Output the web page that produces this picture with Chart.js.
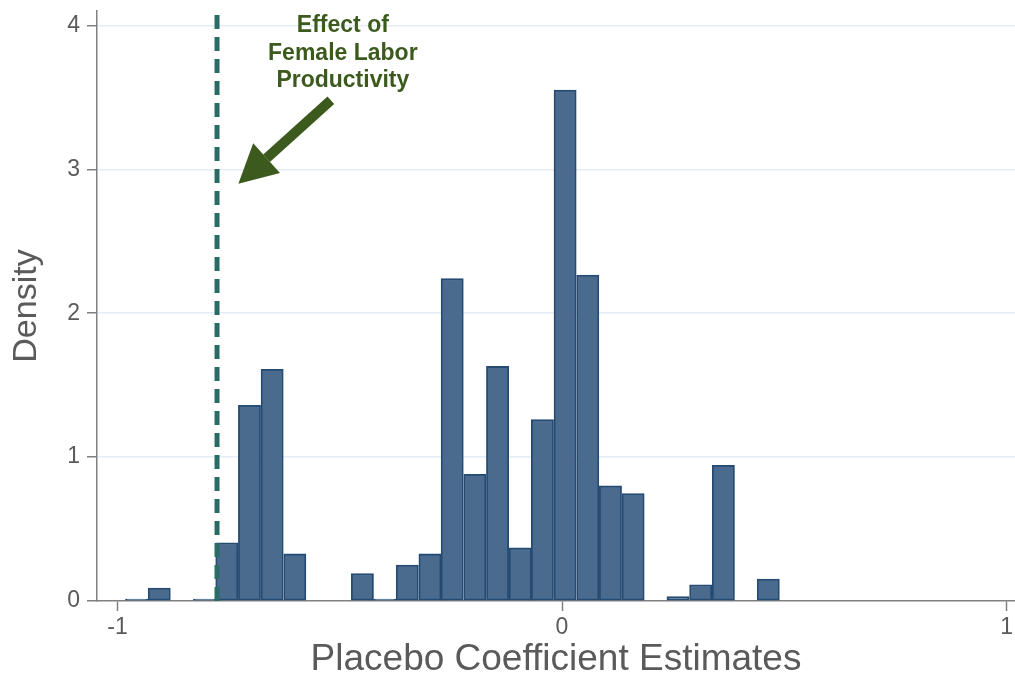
<!DOCTYPE html>
<html>
<head>
<meta charset="utf-8">
<script src="https://cdn.jsdelivr.net/npm/chart.js@4.4.1/dist/chart.umd.min.js"></script>
<style>
  body { margin: 0; background: #fff; }
  #wrap { width: 1015px; height: 682px; }
</style>
</head>
<body>
<div id="wrap"><canvas id="myChart" width="1015" height="682"></canvas></div>
<script>
// bin centres of the histogram (placebo coefficient values)
const binCenters = [-0.957, -0.906, -0.855, -0.804, -0.754, -0.703, -0.652, -0.601, -0.551, -0.500,
    -0.449, -0.399, -0.348, -0.297, -0.247, -0.196, -0.145, -0.094, -0.044, 0.007,
    0.058, 0.109, 0.160, 0.210, 0.261, 0.312, 0.363, 0.413, 0.464];

// density of each bin
const densities = [0.013, 0.09, 0, 0.013, 0.405, 1.36, 1.61, 0.327, 0, 0,
    0.19, 0.013, 0.25, 0.327, 2.24, 0.88, 1.63, 0.37, 1.26, 3.55,
    2.265, 0.80, 0.746, 0, 0.031, 0.113, 0.943, 0, 0.152];

// actual estimate (dashed line)
const actualEffect = -0.776;

const xTicks = [-1, 0, 1];
const yTicks = [0, 1, 2, 3, 4];

const annotationLines = ["Effect of", "Female Labor", "Productivity"];

const tickFont = { family: "Liberation Sans, Arial, sans-serif", size: 23 };
const grey = "#5a5a5a";

// arrow + label, placed in data coordinates
const arrowPlugin = {
    id: "arrowNote",
    afterDatasetsDraw(chart) {
        const ctx = chart.ctx;
        const xs = chart.scales.x, ys = chart.scales.y;
        const green = "#3c5a1d";

        ctx.save();
        ctx.fillStyle = green;
        ctx.font = "bold 23px Liberation Sans, Arial, sans-serif";
        ctx.textAlign = "center";
        ctx.textBaseline = "middle";
        const cx = xs.getPixelForValue(-0.493);
        const lineY = [4.0, 3.805, 3.617];
        annotationLines.forEach((t, i) => ctx.fillText(t, cx, ys.getPixelForValue(lineY[i])));

        // arrow
        const x0 = xs.getPixelForValue(-0.52), y0 = ys.getPixelForValue(3.48);
        const x1 = xs.getPixelForValue(-0.728), y1 = ys.getPixelForValue(2.90);
        const ang = Math.atan2(y1 - y0, x1 - x0);
        const headLen = 38, headHalf = 20;
        const bx = x1 - headLen * Math.cos(ang), by = y1 - headLen * Math.sin(ang);
        ctx.strokeStyle = green;
        ctx.lineWidth = 10;
        ctx.lineCap = "butt";
        ctx.beginPath();
        ctx.moveTo(x0, y0);
        ctx.lineTo(bx, by);
        ctx.stroke();
        ctx.beginPath();
        ctx.moveTo(x1, y1);
        ctx.lineTo(bx + headHalf * Math.sin(ang), by - headHalf * Math.cos(ang));
        ctx.lineTo(bx - headHalf * Math.sin(ang), by + headHalf * Math.cos(ang));
        ctx.closePath();
        ctx.fill();
        ctx.restore();
    }
};

const data = {
    datasets: [
        {
            type: "line",
            data: [{ x: actualEffect, y: 0 }, { x: actualEffect, y: 4.12 }],
            borderColor: "#2b6b66",
            borderWidth: 5,
            borderDash: [14, 8],
            pointRadius: 0,
            clip: false,
            order: 0,
        },
        {
            type: "bar",
            data: binCenters.map((c, i) => ({ x: c, y: densities[i] })),
            backgroundColor: "#4a6b8e",
            borderColor: "#264b73",
            borderWidth: 1.8,
            borderSkipped: false,
            barPercentage: 1,
            categoryPercentage: 1,
            order: 1,
        },
    ],
};

const config = {
    type: "bar",
    data: data,
    plugins: [arrowPlugin],
    options: {
        responsive: false,
        animation: false,
        devicePixelRatio: 1,
        layout: { padding: { top: 11, right: 0, bottom: 0, left: 0 } },
        plugins: { legend: { display: false }, tooltip: { enabled: false } },
        scales: {
            x: {
                type: "linear",
                min: -1.046,
                max: 1.019,
                offset: false,
                afterFit: (s) => { s.height = 81; s.paddingLeft = 0; s.paddingRight = 0; },
                afterBuildTicks: (s) => { s.ticks = xTicks.map((v) => ({ value: v })); },
                border: { color: "#808080", width: 1.5 },
                grid: { drawOnChartArea: false, offset: false, tickColor: "#808080", tickLength: 10, tickWidth: 1.5 },
                ticks: { color: grey, font: tickFont, padding: 3, maxRotation: 0 },
                title: {
                    display: true,
                    text: "Placebo Coefficient Estimates",
                    color: grey,
                    font: { family: "Liberation Sans, Arial, sans-serif", size: 37 },
                    padding: { top: 0, bottom: 0 },
                },
            },
            y: {
                min: 0,
                max: 4.1,
                afterFit: (s) => { s.width = 97; s.paddingTop = 0; s.paddingBottom = 0; },
                afterBuildTicks: (s) => { s.ticks = yTicks.map((v) => ({ value: v })); },
                border: { color: "#808080", width: 1.5 },
                grid: {
                    color: (c) => (c.tick && c.tick.value === 0 ? "rgba(0,0,0,0)" : "#e2eef3"),
                    lineWidth: 1.5,
                    tickColor: "#808080",
                    tickLength: 10,
                    tickWidth: 1.5,
                },
                ticks: { color: grey, font: tickFont, padding: 7 },
                title: {
                    display: true,
                    text: "Density",
                    color: grey,
                    font: { family: "Liberation Sans, Arial, sans-serif", size: 34 },
                    padding: { top: 6, bottom: 0 },
                },
            },
        },
    },
};

const myChart = new Chart(document.getElementById("myChart"), config);
</script>
</body>
</html>
